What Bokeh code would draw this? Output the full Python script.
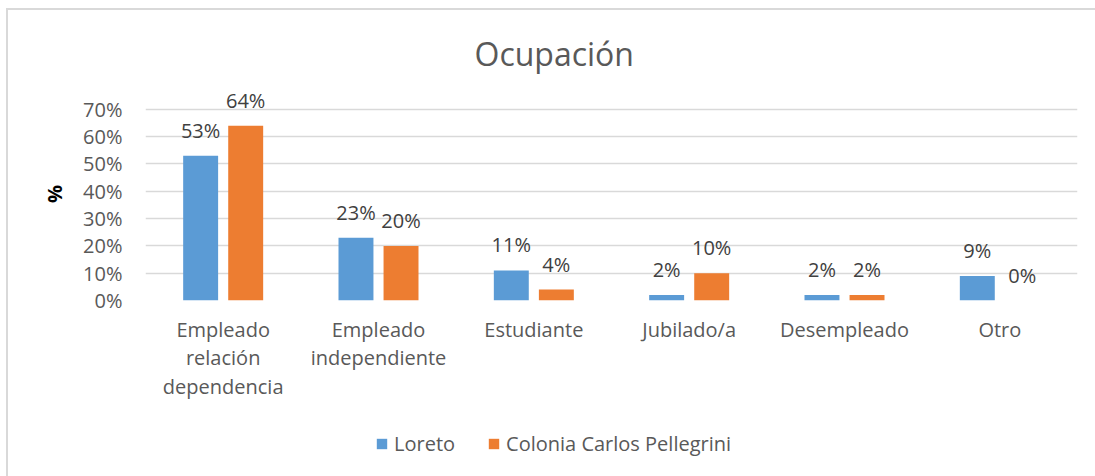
from bokeh.plotting import figure
from bokeh.layouts import column
from bokeh.models import (ColumnDataSource, FactorRange, Range1d, FixedTicker,
                          LabelSet, Legend, LegendItem)
from bokeh.transform import dodge
from bokeh.core.properties import value
from bokeh.embed import file_html
from bokeh.resources import INLINE

# ---- data ----
categories = ["Empleado\nrelación\ndependencia", "Empleado\nindependiente",
              "Estudiante", "Jubilado/a", "Desempleado", "Otro"]
series_names = ["Loreto", "Colonia Carlos Pellegrini"]
loreto = [53, 23, 11, 2, 2, 9]
colonia = [64, 20, 4, 10, 2, 0]
y_ticks = [0, 10, 20, 30, 40, 50, 60, 70]
title_text = "Ocupación"
y_label = "%"

FONT = "Open Sans"
TXT = "#595959"
BLUE = "#5b9bd5"
ORANGE = "#ed7d31"
GRID = "#d9d9d9"

src = ColumnDataSource(dict(
    cat=categories,
    loreto=loreto,
    colonia=colonia,
    loreto_lbl=[f"{v}%" for v in loreto],
    colonia_lbl=[f"{v}%" for v in colonia],
))

W = 1087
H_MAIN = 400
H_LEG = 66

p = figure(width=W, height=H_MAIN,
           x_range=FactorRange(*categories, range_padding=0),
           y_range=Range1d(0, 78),
           output_backend="svg", toolbar_location=None,
           min_border_left=137, min_border_right=18,
           min_border_top=77, min_border_bottom=H_MAIN - 290)

p.outline_line_color = None
p.background_fill_color = "white"
p.border_fill_color = "white"

off = 0.145
bw = 0.225
p.vbar(x=dodge("cat", -off, range=p.x_range), top="loreto", width=bw,
       source=src, fill_color=BLUE, line_color=None)
p.vbar(x=dodge("cat", off, range=p.x_range), top="colonia", width=bw,
       source=src, fill_color=ORANGE, line_color=None)

for field, lbl, d in [("loreto", "loreto_lbl", -off), ("colonia", "colonia_lbl", off)]:
    ls = LabelSet(x=dodge("cat", d, range=p.x_range), y=field, text=lbl,
                  source=src, text_align="center", text_baseline="alphabetic",
                  y_offset=18, text_font=value(FONT), text_font_size="20px",
                  text_color="#404040")
    p.add_layout(ls)

# title
p.title.text = title_text
p.title.text_font = FONT
p.title.text_font_size = "32px"
p.title.text_font_style = "normal"
p.title.text_color = TXT
p.title.align = "left"
p.title.offset = 329
p.title.standoff = 25

# y axis
p.yaxis.ticker = FixedTicker(ticks=y_ticks)
p.ygrid.ticker = FixedTicker(ticks=y_ticks)
p.yaxis.major_label_overrides = {t: f"{t}%" for t in y_ticks}
p.yaxis.axis_line_color = None
p.yaxis.major_tick_line_color = None
p.yaxis.minor_tick_line_color = None
p.yaxis.major_tick_out = 0
p.yaxis.major_tick_in = 0
p.yaxis.major_label_standoff = 23
p.yaxis.major_label_text_font = FONT
p.yaxis.major_label_text_font_size = "20px"
p.yaxis.major_label_text_color = TXT
p.yaxis.axis_label = y_label
p.yaxis.axis_label_text_font = FONT
p.yaxis.axis_label_text_font_size = "20px"
p.yaxis.axis_label_text_font_style = "bold"
p.yaxis.axis_label_text_color = "#000000"
p.yaxis.axis_label_standoff = 12
p.ygrid.grid_line_color = GRID
p.ygrid.grid_line_width = 1.5

# x axis
p.xaxis.axis_line_color = None
p.xaxis.major_tick_line_color = None
p.xaxis.minor_tick_line_color = None
p.xaxis.major_tick_out = 0
p.xaxis.major_tick_in = 0
p.xaxis.major_label_standoff = 15
p.xaxis.major_label_text_font = FONT
p.xaxis.major_label_text_font_size = "20px"
p.xaxis.major_label_text_color = TXT
p.xaxis.major_label_text_line_height = 1.07
p.xgrid.grid_line_color = None

# legend strip: the same series against a y range they never reach
# (and zero width), so only their legend entries are visible
q = figure(width=W, height=H_LEG, x_range=p.x_range, y_range=Range1d(1000, 1001),
           output_backend="svg", toolbar_location=None,
           x_axis_location=None, y_axis_location=None,
           min_border=0)
q.outline_line_color = None
q.xgrid.grid_line_color = None
q.ygrid.grid_line_color = None
q.background_fill_color = "white"
q.border_fill_color = "white"
k1 = q.vbar(x=dodge("cat", -off, range=q.x_range), top="loreto", width=0,
            source=src, fill_color=BLUE, line_color=None)
k2 = q.vbar(x=dodge("cat", off, range=q.x_range), top="colonia", width=0,
            source=src, fill_color=ORANGE, line_color=None)

legend = Legend(items=[LegendItem(label=series_names[0], renderers=[k1]),
                       LegendItem(label=series_names[1], renderers=[k2])],
                orientation="horizontal", location=(230, 19),
                glyph_width=13, glyph_height=13, label_standoff=6, spacing=32,
                padding=0, margin=0, border_line_color=None,
                background_fill_alpha=0,
                label_text_font=FONT, label_text_font_size="20px",
                label_text_color=TXT)
q.add_layout(legend, "center")

layout = column(p, q, spacing=0,
                styles={"margin-left": "6px", "margin-top": "8px",
                        "border-left": "2px solid #d9d9d9",
                        "border-top": "2px solid #d9d9d9"})

open("out.html", "w").write(file_html(layout, INLINE))
